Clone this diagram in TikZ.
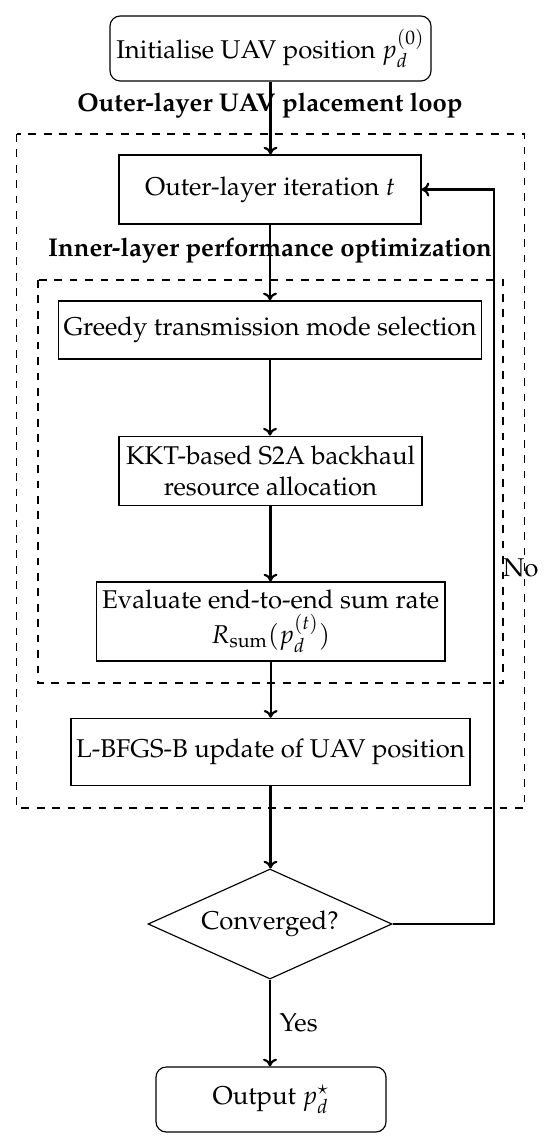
\documentclass[tikz,border=0pt]{standalone}
\usepackage[T1]{fontenc}
\usepackage{mathpazo}
\usetikzlibrary{shapes.geometric,arrows.meta}
\begin{document}
\begin{tikzpicture}[x=0.389pt,y=-0.389pt,
  box/.style={draw,line width=0.45pt,align=center,inner sep=0pt},
  term/.style={box,rounded corners=4pt},
  dec/.style={draw,line width=0.45pt,diamond,aspect=2.2,inner sep=0pt},
  arr/.style={-{To[width=5.4pt,length=3pt]},line width=0.85pt},
  grp/.style={draw,dashed,line width=0.45pt},
  lbl/.style={font=\bfseries}]
\useasboundingbox (0,0) rectangle (550,1144);
% grouping frames
\draw[grp] (16.8,134) rectangle (524.7,808);
\draw[grp] (38,280) rectangle (503,683);
% nodes
\node[term,minimum width=124.9pt,minimum height=25.3pt] (init) at (270.5,48.5) {Initialise UAV position $p_d^{(0)}$};
\node[lbl] (outl) at (270,106) {Outer-layer UAV placement loop};
\node[box,minimum width=117.5pt,minimum height=26.8pt] (iter) at (270,189.5) {Outer-layer iteration $t$};
\node[lbl] (innl) at (270,251) {Inner-layer performance optimization};
\node[box,minimum width=164.7pt,minimum height=22.6pt] (greedy) at (270,330) {Greedy transmission mode selection};
\node[box,minimum width=117.9pt,minimum height=27.1pt] (kkt) at (270.5,471) {KKT-based S2A backhaul\\resource allocation};
\node[box,minimum width=135.6pt,minimum height=30.7pt] (eval) at (270.7,621.5) {Evaluate end-to-end sum rate\\[1.5pt]$R_{\mathrm{sum}}(p_d^{(t)})$};
\node[box,minimum width=155.2pt,minimum height=26.2pt] (lbfgs) at (270.5,752) {L-BFGS-B update of UAV position};
\node[dec,minimum width=94.9pt,minimum height=42.8pt] (conv) at (270,924) {Converged?};
\node[term,minimum width=89.5pt,minimum height=25.3pt] (out) at (271,1099.5) {Output $p_d^{\star}$};
\coordinate (fb) at (494,189.5);
% connectors
\draw[arr] (init.south) -- (init.south |- iter.north);
\draw[arr] (iter.south) -- (iter.south |- greedy.north);
\draw[arr] (greedy.south) -- (greedy.south |- kkt.north);
\draw[arr] (kkt.south) -- (kkt.south |- eval.north);
\draw[arr] (eval.south) -- (eval.south |- lbfgs.north);
\draw[arr] (lbfgs.south) -- (lbfgs.south |- conv.north);
\draw[arr] (conv.south) -- node[right] (yes) {Yes} (conv.south |- out.north);
\draw[arr] (conv.east) -| (fb) -- (iter.east);
\node[right] (no) at (494,568) {No};
\end{tikzpicture}
\end{document}
